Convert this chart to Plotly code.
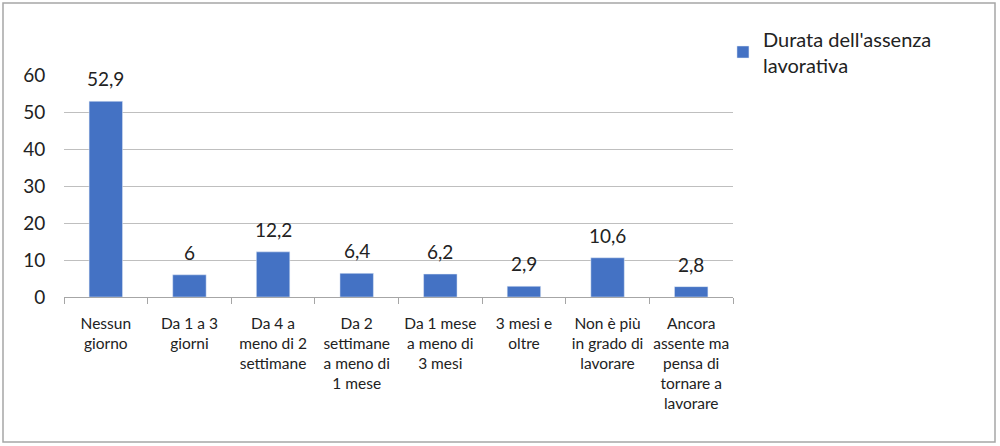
import plotly.graph_objects as go

# Dati del grafico
categorie = [
    "Nessun<br>giorno",
    "Da 1 a 3<br>giorni",
    "Da 4 a<br>meno di 2<br>settimane",
    "Da 2<br>settimane<br>a meno di<br>1 mese",
    "Da 1 mese<br>a meno di<br>3 mesi",
    "3 mesi e<br>oltre",
    "Non è più<br>in grado di<br>lavorare",
    "Ancora<br>assente ma<br>pensa di<br>tornare a<br>lavorare",
]
valori = [52.9, 6, 12.2, 6.4, 6.2, 2.9, 10.6, 2.8]
nome_serie = "Durata dell'assenza<br>lavorativa"

etichette = [f"{v:g}".replace(".", ",") for v in valori]

font = "Lato, 'Noto Sans', sans-serif"

fig = go.Figure()
fig.add_trace(go.Bar(
    x=categorie, y=valori, name=nome_serie,
    marker=dict(color="#4472C4"),
    width=0.4,
    cliponaxis=False,
))

# Etichette dei valori sopra le barre
for c, v, t in zip(categorie, valori, etichette):
    fig.add_annotation(x=c, y=v, text=t, showarrow=False,
                       yanchor="bottom", yshift=9,
                       font=dict(size=19, color="#222222"))

# Bordo esterno del grafico
fig.add_shape(type="rect", xref="paper", yref="paper",
              x0=-61/669, x1=931/669, y0=-145/222, y1=294/222,
              line=dict(color="#A6A6A6", width=1.5))

fig.update_layout(
    width=1000, height=446,
    margin=dict(l=64, r=267, t=75, b=149, autoexpand=False),
    plot_bgcolor="white", paper_bgcolor="white",
    font=dict(family=font, color="#222222"),
    showlegend=True,
    legend=dict(x=0.985, y=1.25, xanchor="left", yanchor="top",
                font=dict(size=20), itemwidth=30),
    bargap=0.6,
)
fig.update_xaxes(
    showline=True, linecolor="#A6A6A6", linewidth=1,
    ticks="outside", tickson="boundaries", ticklen=6, tickcolor="#A6A6A6",
    tickfont=dict(size=15.5), ticklabelstandoff=12, tickangle=0,
    showgrid=False, automargin=False,
)
fig.update_yaxes(
    range=[0, 60], dtick=10, showgrid=True, gridcolor="#BFBFBF", gridwidth=1,
    tickfont=dict(size=19), zeroline=False, ticks="outside", ticklen=14,
    tickcolor="white", automargin=False,
)

# niente margine della pagina, così il grafico riempie la finestra
fig.write_html("out.html", config={"displayModeBar": False},
               post_script="document.body.style.margin='0';")
